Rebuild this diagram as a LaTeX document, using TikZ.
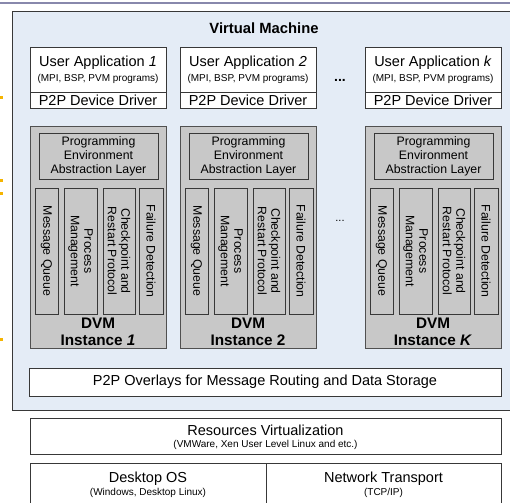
\documentclass[tikz,border=0pt]{standalone}
\usepackage{fontspec}
\setmainfont{Liberation Sans}
\usetikzlibrary{calc}
\definecolor{vmfill}{HTML}{E4ECF6}
\definecolor{dvmfill}{HTML}{C8C8C8}
\definecolor{edge}{HTML}{383838}
\definecolor{edgegray}{HTML}{505050}
\definecolor{topline}{HTML}{8888AC}
\definecolor{markcol}{HTML}{F5B400}
\begin{document}
\begin{tikzpicture}[x=1pt,y=-1pt,
  box/.style={draw=edge, line width=0.9pt, fill=white, inner sep=0pt, anchor=north west},
  vmbox/.style={draw=edge, line width=1.3pt, fill=vmfill, inner sep=0pt, anchor=north west},
  dvmbox/.style={draw=edgegray, line width=0.9pt, fill=dvmfill, inner sep=0pt, anchor=north west},
  colbox/.style={draw=edge, line width=0.8pt, fill=dvmfill, inner sep=0pt, rotate=-90,
    minimum width=126pt, align=center, font=\fontsize{12.3}{13.5}\selectfont},
  maintext/.style={inner sep=0pt, font=\fontsize{14.5}{16}\selectfont},
  subtext/.style={inner sep=0pt, font=\fontsize{10}{11}\selectfont},
  boldtext/.style={inner sep=0pt, font=\fontsize{14.8}{16}\selectfont\bfseries},
  dvmtext/.style={inner sep=0pt, font=\fontsize{15.3}{17}\selectfont\bfseries},
]
\useasboundingbox (0,0) rectangle (510,502);
\clip (0,0) rectangle (510,502);
\fill[white] (0,0) rectangle (510,502);

% rule across the top and small marks on the left margin
\draw[topline, line width=2pt] (0,3) -- (510,3);
\foreach \yy in {98,181,194,339} \fill[markcol] (0,\yy-1.5) rectangle (3,\yy+1.5);

% virtual machine frame
\node[vmbox, minimum width=520pt, minimum height=399pt] (vm) at (12,11) {};
\node[boldtext] (vmtitle) at (264,28) {Virtual Machine};

% applications and DVM instances
\foreach \n/\x/\lab/\ilab in {1/30/\textit{1}/\textit{1}, 2/180/\textit{2}/2, k/365/\textit{k}/\textit{K}} {
  \node[box, minimum width=136pt, minimum height=45pt] (app\n) at (\x,47) {};
  \node[maintext] (appt\n) at (\x+68,63) {User Application \lab};
  \node[subtext] (apps\n) at (\x+68,79) {(MPI, BSP, PVM programs)};
  \node[box, minimum width=136pt, minimum height=16pt] (drv\n) at (\x,92) {};
  \node[maintext] (drvt\n) at (\x+68,100.5) {P2P Device Driver};

  \node[dvmbox, minimum width=136pt, minimum height=222pt] (dvm\n) at (\x,126) {};
  \node[dvmbox, draw=edge, minimum width=119pt, minimum height=46pt] (peal\n) at (\x+9,133) {};
  \node[inner sep=0pt, align=center, font=\fontsize{12.3}{14}\selectfont] (pealt\n) at (\x+68.5,156.5)
    {Programming\\Environment\\Abstraction Layer};
  \node[colbox, minimum height=23pt] (mq\n) at (\x+16.5,251) {Message Queue};
  \node[colbox, minimum height=33pt] (pm\n) at (\x+50.5,251) {Process\\Management};
  \node[colbox, minimum height=32pt] (cr\n) at (\x+89,251) {Checkpoint and\\Restart Protocol};
  \node[colbox, minimum height=24pt] (fd\n) at (\x+121,251) {Failure Detection};
  \node[dvmtext] (dvml\n) at (\x+68,323.5) {DVM};
  \node[dvmtext] (inst\n) at (\x+68,340.5) {Instance \ilab};
}
\node[inner sep=0pt, font=\fontsize{14}{16}\selectfont\bfseries] (dotsa) at (340,80) {...};
\node[inner sep=0pt, font=\fontsize{11}{13}\selectfont] (dotsb) at (340,221) {...};

% overlay layer
\node[box, minimum width=472pt, minimum height=28pt] (p2p) at (29,368) {};
\node[maintext] (p2pt) at (265,382) {P2P Overlays for Message Routing and Data Storage};

% host layers
\node[box, minimum width=471pt, minimum height=36pt] (res) at (30,418) {};
\node[maintext] (rest) at (265.5,430.5) {Resources Virtualization};
\node[subtext] (ress) at (265.5,444.5) {(VMWare, Xen User Level Linux and etc.)};

\node[box, minimum width=236pt, minimum height=60pt] (os) at (30,463) {};
\node[box, minimum width=235pt, minimum height=60pt] (net) at (266,463) {};
\node[maintext] (ost) at (148,478.5) {Desktop OS};
\node[subtext] (oss) at (148,492.5) {(Windows, Desktop Linux)};
\node[maintext] (nett) at (383.5,478.5) {Network Transport};
\node[subtext] (nets) at (383.5,492.5) {(TCP/IP)};
\end{tikzpicture}
\end{document}
